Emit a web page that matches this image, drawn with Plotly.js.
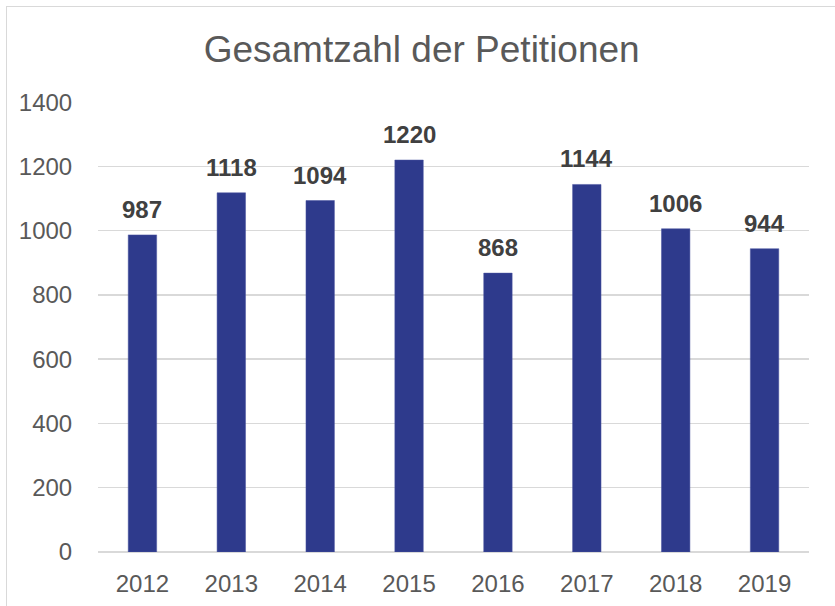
<!DOCTYPE html>
<html>
<head>
<meta charset="utf-8">
<script src="https://cdn.plot.ly/plotly-3.0.1.min.js"></script>
<style>
  html, body { margin: 0; padding: 0; background: #ffffff; overflow: hidden; }
  #chart { position: absolute; left: 0; top: 0; width: 835px; height: 606px; }
  #frame { position: absolute; left: 6px; top: 6px; width: 900px; height: 700px;
           border: 1px solid #d9d9d9; pointer-events: none; }
</style>
</head>
<body>
<div id="chart"></div>
<div id="frame"></div>
<script>
const years = ['2012', '2013', '2014', '2015', '2016', '2017', '2018', '2019'];
const petitions = [987, 1118, 1094, 1220, 868, 1144, 1006, 944];
const yTicks = [0, 200, 400, 600, 800, 1000, 1200, 1400];

const font = 'Liberation Sans, Arial, sans-serif';

const trace = {
  type: 'bar',
  x: years,
  y: petitions,
  marker: { color: '#2E3A8C', line: { color: '#4A55A0', width: 0.5 } },
  hoverinfo: 'x+y'
};

// annotations on a category axis are positioned by category index
const annotations = years.map((yr, i) => ({
  x: i,
  y: petitions[i],
  xref: 'x',
  yref: 'y',
  text: String(petitions[i]),
  showarrow: false,
  yanchor: 'bottom',
  yshift: 10,
  font: { family: font, size: 24, color: '#404040', weight: 'bold' }
}));

const layout = {
  width: 835,
  height: 606,
  margin: { l: 98, r: 26, t: 102, b: 54 },
  paper_bgcolor: '#ffffff',
  plot_bgcolor: '#ffffff',
  bargap: 0.68,
  showlegend: false,
  title: {
    text: 'Gesamtzahl der Petitionen',
    font: { family: font, size: 37, color: '#595959' },
    xref: 'container', yref: 'container',
    x: 0.505, y: 1 - 49 / 606,
    xanchor: 'center', yanchor: 'middle'
  },
  xaxis: {
    type: 'category',
    categoryorder: 'array',
    categoryarray: years,
    range: [-0.5, years.length - 0.5],
    showgrid: false,
    showline: false,
    zeroline: false,
    ticks: 'outside', ticklen: 10, tickcolor: 'rgba(0,0,0,0)',
    tickfont: { family: font, size: 24, color: '#595959' }
  },
  yaxis: {
    range: [0, 1400.6],
    tickvals: yTicks,
    ticktext: yTicks.map(String),
    showgrid: true,
    gridcolor: '#d9d9d9',
    gridwidth: 1.5,
    zeroline: true,
    zerolinecolor: '#d9d9d9',
    zerolinewidth: 1.5,
    showline: false,
    ticks: 'outside', ticklen: 20, tickcolor: 'rgba(0,0,0,0)',
    tickfont: { family: font, size: 24, color: '#595959' }
  },
  annotations: annotations
};

Plotly.newPlot('chart', [trace], layout, { displayModeBar: false, staticPlot: true });
</script>
</body>
</html>
